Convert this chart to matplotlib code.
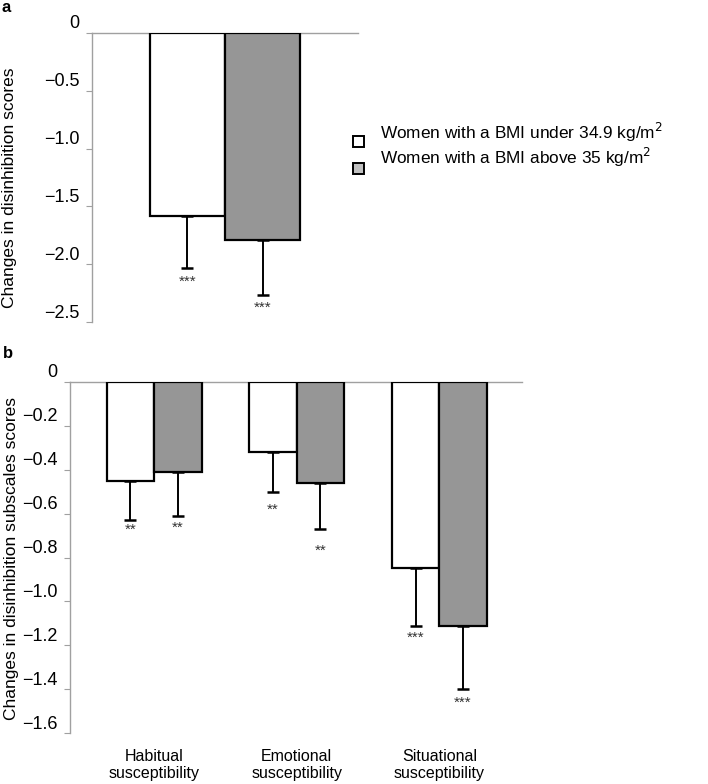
import matplotlib
matplotlib.use("Agg")
import matplotlib.pyplot as plt
import matplotlib.transforms as mtransforms
from matplotlib.patches import Rectangle
import numpy as np

plt.rcParams['font.family'] = ['Liberation Sans', 'DejaVu Sans']

# ---- data ----
series_labels = ["Women with a BMI under 34.9 kg/m$^2$", "Women with a BMI above 35 kg/m$^2$"]
series_colors = ["white", "#969696"]

a_means = [-1.58, -1.79]
a_err = [0.45, 0.48]
a_stars = ["***", "***"]
a_yticks = [0, -0.5, -1.0, -1.5, -2.0, -2.5]
a_yticklabels = ["0", "\u22120.5", "\u22121.0", "\u22121.5", "\u22122.0", "\u22122.5"]

b_categories = ["Habitual\nsusceptibility", "Emotional\nsusceptibility", "Situational\nsusceptibility"]
b_under = [-0.45, -0.32, -0.85]
b_under_err = [0.18, 0.18, 0.26]
b_above = [-0.41, -0.46, -1.11]
b_above_err = [0.20, 0.21, 0.29]
b_under_stars = ["**", "**", "***"]
b_above_stars = ["**", "**", "***"]
b_yticks = [0, -0.2, -0.4, -0.6, -0.8, -1.0, -1.2, -1.4, -1.6]
b_yticklabels = ["0", "\u22120.2", "\u22120.4", "\u22120.6", "\u22120.8", "\u22121.0", "\u22121.2", "\u22121.4", "\u22121.6"]

# ---- styling ----
W, H = 708, 784
DPI = 100
fig = plt.figure(figsize=(W / DPI, H / DPI), dpi=DPI)
spine_col = "#a0a0a0"
tick_fs = 13
lab_fs = 12.5
leg_fs = 12.4
cat_fs = 11.5
star_fs = 11


def style_axes(ax, yticks, yticklabels, ylim):
    ax.set_ylim(*ylim)
    for s in ["right", "bottom"]:
        ax.spines[s].set_visible(False)
    ax.spines["left"].set_color(spine_col)
    ax.spines["top"].set_color(spine_col)
    ax.spines["left"].set_linewidth(1.0)
    ax.spines["top"].set_linewidth(1.0)
    ax.set_yticks(yticks)
    ax.set_yticklabels(yticklabels, fontsize=tick_fs)
    ax.tick_params(axis="y", length=4, color=spine_col, direction="out", pad=5)
    ax.tick_params(axis="x", length=0)
    # labels drawn slightly above their ticks, as in the reference
    off = mtransforms.ScaledTranslation(0, 11 / DPI, fig.dpi_scale_trans)
    for lab in ax.get_yticklabels():
        lab.set_transform(lab.get_transform() + off)


def draw_bar(ax, x, v, e, color, width, star, star_off):
    ax.bar(x, v, width=width, color=color, edgecolor="black", linewidth=1.6, zorder=3)
    ax.errorbar(x, v, yerr=[[e], [0]], fmt="none", ecolor="black", elinewidth=1.4,
                capsize=4, capthick=1.8, zorder=2)
    ax.annotate(star, xy=(x, v - e), xytext=(0, -star_off), textcoords="offset points",
                ha="center", va="center", fontsize=star_fs, color="#333333")


# ---- panel a ----
ax1 = fig.add_axes([92 / W, 1 - 322 / H, (358 - 92) / W, (322 - 33) / H])
style_axes(ax1, a_yticks, a_yticklabels, (-2.5, 0))
wa = 0.282
ax1.set_xlim(-0.5, 0.5)
ax1.set_xticks([])
a_x = [-wa / 2, wa / 2]
a_star_off = [10, 9]
for i in range(2):
    draw_bar(ax1, a_x[i], a_means[i], a_err[i], series_colors[i], wa, a_stars[i], a_star_off[i])
fig.text(10 / W, 1 - 188 / H, "Changes in disinhibition scores", fontsize=lab_fs,
         rotation=90, ha="center", va="center")

# ---- panel b ----
ax2 = fig.add_axes([70 / W, 1 - 733.3 / H, (522 - 70) / W, (733.3 - 381.7) / H])
style_axes(ax2, b_yticks, b_yticklabels, (-1.6, 0))
wb = 0.333
ax2.set_xlim(-0.59, 2.58)
xs = np.arange(len(b_categories))
ax2.set_xticks(xs)
ax2.set_xticklabels(b_categories, fontsize=cat_fs, linespacing=1.2)
ax2.tick_params(axis="x", pad=11)
b_under_off = [7, 13, 9]
b_above_off = [9, 16, 10]
for i in range(len(b_categories)):
    draw_bar(ax2, xs[i] - wb / 2, b_under[i], b_under_err[i], series_colors[0], wb,
             b_under_stars[i], b_under_off[i])
    draw_bar(ax2, xs[i] + wb / 2, b_above[i], b_above_err[i], series_colors[1], wb,
             b_above_stars[i], b_above_off[i])
fig.text(12 / W, 1 - 559 / H, "Changes in disinhibition subscales scores", fontsize=lab_fs,
         rotation=90, ha="center", va="center")

# ---- panel letters ----
fig.text(1 / W, 1 - 8 / H, "a", fontsize=12, fontweight="bold", va="center", ha="left")
fig.text(3 / W, 1 - 353 / H, "b", fontsize=12, fontweight="bold", va="center", ha="left")

# ---- legend ----
box = 11
leg_boxes = [(353, 136), (353, 163)]
leg_text_y = [132, 157]
for i in range(2):
    bx, by = leg_boxes[i]
    fig.add_artist(Rectangle((bx / W, 1 - (by + box) / H), box / W, box / H,
                             facecolor=series_colors[i] if i == 0 else "#c0c0c0",
                             edgecolor="black", linewidth=1.4, transform=fig.transFigure))
    fig.text(380 / W, 1 - leg_text_y[i] / H, series_labels[i], fontsize=leg_fs,
             va="center", ha="left")

fig.savefig("out.png", dpi=DPI)
